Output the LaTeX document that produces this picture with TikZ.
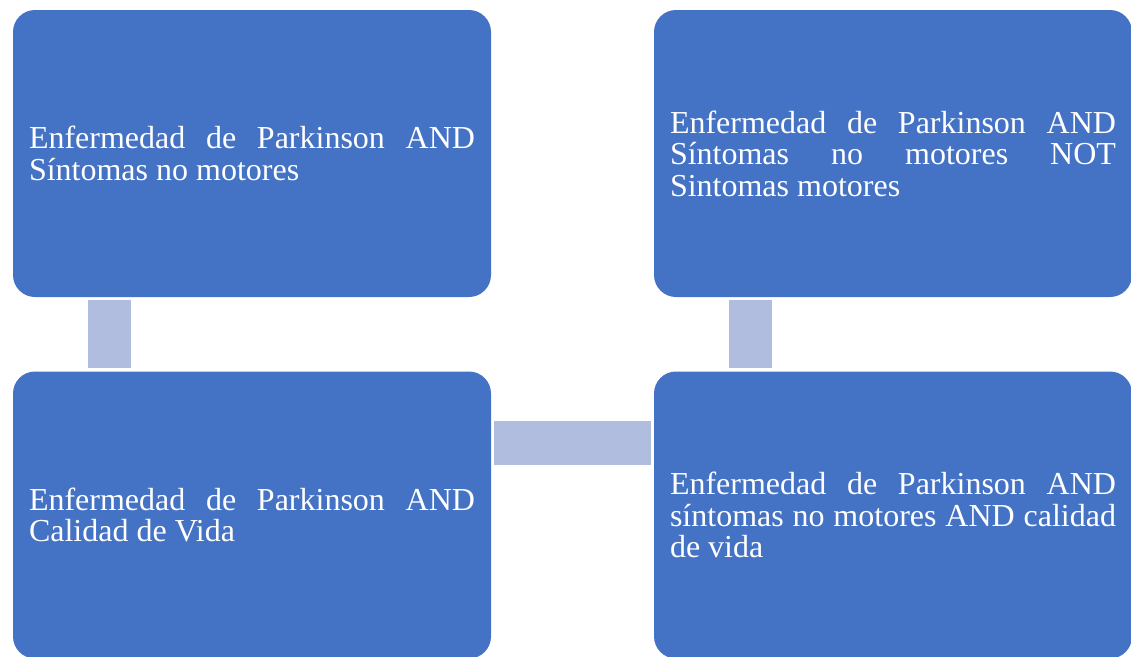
\documentclass[tikz,border=0pt]{standalone}
\usepackage{fontspec}
\setmainfont{Liberation Serif}
\definecolor{boxblue}{HTML}{4472C4}
\definecolor{linkblue}{HTML}{B0BDDE}
\tolerance=10000
\hyphenpenalty=10000

\begin{document}
\begin{tikzpicture}[x=1pt,y=-1pt]
        % Estilos
        \tikzset{
            block/.style={rectangle, rounded corners=22pt, fill=boxblue, text=white,
                         minimum width=478pt, minimum height=287pt, inner sep=0pt,
                         text width=446pt, align=justify, font=\fontsize{32}{31.5}\selectfont},
            link/.style={draw=linkblue, line width=43pt, shorten <=3pt, shorten >=3pt}
        }
        \useasboundingbox (0,0) rectangle (1131,656);

        % Bloques de busqueda
        \node[block] (nomotores) at (252,153.5) {Enfermedad de Parkinson AND\linebreak Síntomas no motores};
        \node[block] (calidad) at (252,515) {Enfermedad de Parkinson AND\linebreak Calidad de Vida};
        \node[block] (combinada) at (893,515) {Enfermedad de Parkinson AND\linebreak síntomas no motores AND calidad\linebreak de vida};
        \node[block] (excluye) at (893,153.5) {Enfermedad de Parkinson AND\linebreak Síntomas no motores NOT\linebreak Sintomas motores};

        % Conexiones
        \draw[link] ([xshift=-143pt]nomotores.south) -- ([xshift=-143pt]calidad.north);
        \draw[link, line width=44pt] ([yshift=72pt]calidad.east) -- ([yshift=72pt]combinada.west);
        \draw[link] ([xshift=-142.5pt]excluye.south) -- ([xshift=-142.5pt]combinada.north);
    \end{tikzpicture}
\end{document}
